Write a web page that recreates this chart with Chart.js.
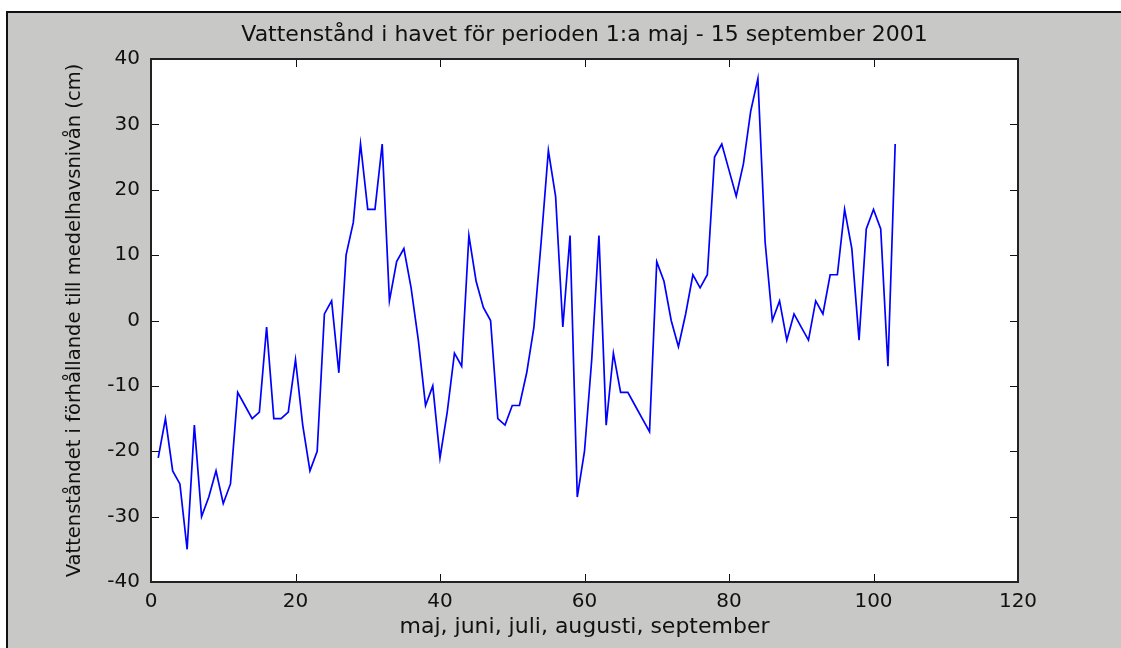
<!DOCTYPE html>
<html>
<head>
<meta charset="utf-8">
<script src="https://cdn.jsdelivr.net/npm/chart.js@4"></script>
<style>
  html, body { margin: 0; padding: 0; background: #fff; }
  #wrap { width: 1121px; height: 648px; position: relative; }
</style>
</head>
<body>
<div id="wrap"><canvas id="levelChart"></canvas></div>
<script>
// Vattenstånd, 1 maj - 15 sept 2001 (cm relativt medelhavsnivån)
const firstDay = 1;
const waterLevel = [
    -21, -15, -23, -25, -35, -16, -30, -27, -23, -28,
    -25, -11, -13, -15, -14, -1, -15, -15, -14, -6,
    -16, -23, -20, 1, 3, -8, 10, 15, 27, 17,
    17, 27, 3, 9, 11, 5, -3, -13, -10, -21,
    -14, -5, -7, 13, 6, 2, 0, -15, -16, -13,
    -13, -8, -1, 12, 26, 19, -1, 13, -27, -20,
    -6, 13, -16, -5, -11, -11, -13, -15, -17, 9,
    6, 0, -4, 1, 7, 5, 7, 25, 27, 23,
    19, 24, 32, 37, 12, 0, 3, -3, 1, -1,
    -3, 3, 1, 7, 7, 17, 11, -3, 14, 17,
    14, -7, 27
];
const xTicks = [0, 20, 40, 60, 80, 100, 120];
const yTicks = [-40, -30, -20, -10, 0, 10, 20, 30, 40];

const chartTitle = 'Vattenstånd i havet för perioden 1:a maj - 15 september 2001';
const xTitle = 'maj, juni, juli, augusti, september';
const yTitle = 'Vattenståndet i förhållande till medelhavsnivån (cm)';

const points = waterLevel.map((v, i) => ({ x: firstDay + i, y: v }));

const FONT = "'DejaVu Sans', 'Liberation Sans', sans-serif";

// gray figure background with black frame at top/left
const figureBg = {
    id: 'figureBg',
    beforeDraw(chart) {
        const ctx = chart.ctx;
        ctx.save();
        ctx.fillStyle = '#ffffff';
        ctx.fillRect(0, 0, chart.width, chart.height);
        ctx.fillStyle = '#c8c8c6';
        ctx.fillRect(6, 11, chart.width - 6, chart.height - 11);
        ctx.fillStyle = '#111';
        ctx.fillRect(6, 11, chart.width - 6, 2);
        ctx.fillRect(6, 11, 2, chart.height - 11);
        const a = chart.chartArea;
        ctx.fillStyle = '#ffffff';
        ctx.fillRect(a.left, a.top, a.right - a.left, a.bottom - a.top);
        ctx.restore();
    }
};

// matlab style box with inward ticks on all four sides
const axesBox = {
    id: 'axesBox',
    afterDraw(chart) {
        const ctx = chart.ctx;
        const a = chart.chartArea;
        const xs = chart.scales.x, ys = chart.scales.y;
        const len = 8;
        ctx.save();
        ctx.strokeStyle = '#111';
        ctx.lineWidth = 1;
        ctx.beginPath();
        xTicks.forEach(t => {
            const px = Math.round(xs.getPixelForValue(t)) + 0.5;
            ctx.moveTo(px, a.bottom); ctx.lineTo(px, a.bottom - len);
            ctx.moveTo(px, a.top); ctx.lineTo(px, a.top + len);
        });
        yTicks.forEach(t => {
            const py = Math.round(ys.getPixelForValue(t)) + 0.5;
            ctx.moveTo(a.left, py); ctx.lineTo(a.left + len, py);
            ctx.moveTo(a.right, py); ctx.lineTo(a.right - len, py);
        });
        ctx.stroke();
        ctx.lineWidth = 2;
        ctx.strokeStyle = '#222';
        ctx.strokeRect(a.left, a.top, a.right - a.left, a.bottom - a.top);
        ctx.restore();
    }
};

new Chart(document.getElementById('levelChart'), {
    type: 'line',
    data: {
        datasets: [{
            data: points,
            borderColor: '#0000ff',
            borderWidth: 1.7,
            pointRadius: 0,
            tension: 0,
            fill: false
        }]
    },
    options: {
        responsive: true,
        maintainAspectRatio: false,
        animation: false,
        events: [],
        layout: { padding: { top: 0, left: 0, right: 103, bottom: 0 } },
        plugins: {
            legend: { display: false },
            tooltip: { enabled: false },
            title: { display: false }
        },
        scales: {
            // top axis only carries the chart title, centred over the plot box
            xTop: {
                type: 'linear',
                position: 'top',
                min: 0,
                max: 120,
                afterFit: s => { s.height = 59; },
                grid: { display: false, drawTicks: false },
                border: { display: false },
                ticks: { display: false },
                title: {
                    display: true,
                    text: chartTitle,
                    color: '#111',
                    font: { family: FONT, size: 22 },
                    padding: { top: 22, bottom: 0 }
                }
            },
            x: {
                type: 'linear',
                min: 0,
                max: 120,
                afterBuildTicks: s => { s.ticks = xTicks.map(v => ({ value: v })); },
                afterFit: s => { s.height = 66; },
                grid: { display: false, drawTicks: false },
                border: { display: false },
                ticks: { color: '#111', padding: 8, maxRotation: 0, font: { family: FONT, size: 20 } },
                title: {
                    display: true,
                    text: xTitle,
                    color: '#111',
                    font: { family: FONT, size: 22 },
                    padding: { top: 0, bottom: 8 }
                }
            },
            y: {
                min: -40,
                max: 40,
                afterBuildTicks: s => { s.ticks = yTicks.map(v => ({ value: v })); },
                afterFit: s => { s.width = 151; },
                grid: { display: false, drawTicks: false },
                border: { display: false },
                ticks: { color: '#111', padding: 11, font: { family: FONT, size: 20 } },
                title: {
                    display: true,
                    text: yTitle,
                    color: '#111',
                    font: { family: FONT, size: 19.5 },
                    padding: { top: 63, bottom: 0 }
                }
            }
        }
    },
    plugins: [figureBg, axesBox]
});
</script>
</body>
</html>
